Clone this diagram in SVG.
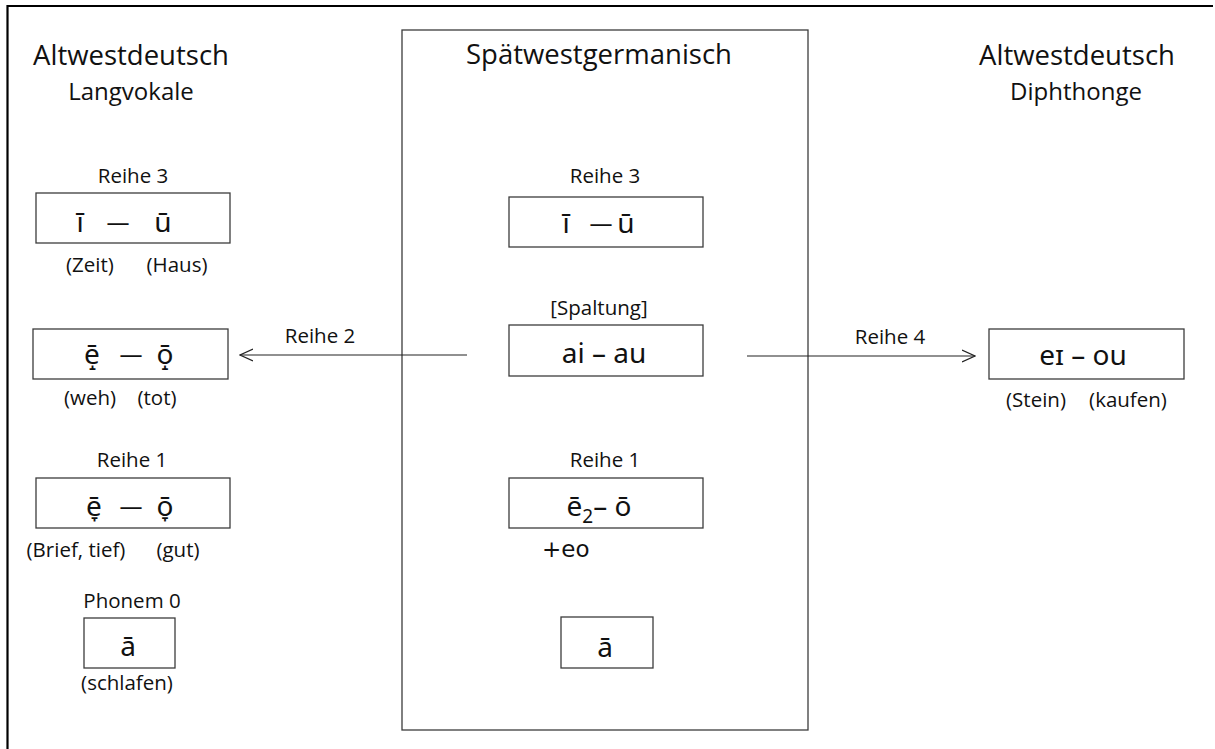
<svg xmlns="http://www.w3.org/2000/svg" width="1215" height="749" viewBox="0 0 1215 749">
<defs>
<style>
text{font-family:"Open Sans","Noto Sans","DejaVu Sans",sans-serif;fill:#111}
.h1{font-size:27.5px;text-anchor:middle}
.h2{font-size:24px;text-anchor:middle}
.lb{font-size:20.5px;text-anchor:middle}
.v{font-size:28px;text-anchor:middle;font-family:"Noto Sans","Open Sans","DejaVu Sans",sans-serif}
.d{font-size:23px;text-anchor:middle;font-family:"Noto Sans","Open Sans","DejaVu Sans",sans-serif}
.box{fill:#fff;stroke:#3c3c3c;stroke-width:1.3}
.con{fill:none;stroke:#222;stroke-width:1.2}
</style>
<marker id="arr" viewBox="0 0 14 14" refX="13" refY="7" markerWidth="14" markerHeight="14" markerUnits="userSpaceOnUse" orient="auto">
<path d="M0,1 L13,7 L0,13" fill="none" stroke="#222" stroke-width="1.2"/>
</marker>
</defs>
<rect width="1215" height="749" fill="#fff"/>
<g id="frame">
<path d="M7.5,749 V6 H1213" fill="none" stroke="#000" stroke-width="2.2"/>
</g>
<g id="center-panel">
<rect class="box" x="402" y="30" width="406" height="700"/>
<text class="h1" x="599" y="64">Spätwestgermanisch</text>
</g>
<g id="connectors">
<line class="con" x1="467" y1="355" x2="240" y2="355" marker-end="url(#arr)"/>
<text class="lb" x="320" y="343">Reihe 2</text>
<line class="con" x1="747" y1="356" x2="975" y2="356" marker-end="url(#arr)"/>
<text class="lb" x="890" y="344">Reihe 4</text>
</g>
<g id="left-heading">
<text class="h1" x="131" y="65">Altwestdeutsch</text>
<text class="h2" x="131" y="100">Langvokale</text>
</g>
<g id="right-heading">
<text class="h1" x="1077" y="65">Altwestdeutsch</text>
<text class="h2" x="1076" y="100">Diphthonge</text>
</g>
<g id="left-reihe3">
<text class="lb" x="133" y="183">Reihe 3</text>
<rect class="box" x="36" y="193" width="194" height="50"/>
<text class="v" x="80" y="232">ī</text>
<text class="d" x="118" y="230">—</text>
<text class="v" x="163" y="232">ū</text>
<text class="lb" x="90" y="272">(Zeit)</text>
<text class="lb" x="177" y="272">(Haus)</text>
</g>
<g id="left-reihe2">
<rect class="box" x="33" y="329" width="195" height="50"/>
<text class="v" x="92" y="364">ē̝</text>
<text class="d" x="131" y="362">—</text>
<text class="v" x="165" y="364">ō̝</text>
<text class="lb" x="90" y="405">(weh)</text>
<text class="lb" x="157" y="405">(tot)</text>
</g>
<g id="left-reihe1">
<text class="lb" x="132" y="467">Reihe 1</text>
<rect class="box" x="36" y="478" width="194" height="50"/>
<text class="v" x="94" y="516">ē̞</text>
<text class="d" x="131" y="514">—</text>
<text class="v" x="165" y="516">ō̞</text>
<text class="lb" x="76" y="557">(Brief, tief)</text>
<text class="lb" x="178" y="557">(gut)</text>
</g>
<g id="left-phonem0">
<text class="lb" x="132" y="608">Phonem 0</text>
<rect class="box" x="84" y="618" width="91" height="50"/>
<text class="v" x="128" y="656">ā</text>
<text class="lb" x="127" y="690">(schlafen)</text>
</g>
<g id="center-reihe3">
<text class="lb" x="605" y="183">Reihe 3</text>
<rect class="box" x="509" y="197" width="194" height="50"/>
<text class="v" x="566" y="233">ī</text>
<text class="d" x="601" y="231">—</text>
<text class="v" x="626" y="233">ū</text>
</g>
<g id="center-spaltung">
<text class="lb" x="599" y="315">[Spaltung]</text>
<rect class="box" x="509" y="325" width="194" height="51"/>
<text class="v" x="604" y="363">ai – au</text>
</g>
<g id="center-reihe1">
<text class="lb" x="605" y="467">Reihe 1</text>
<rect class="box" x="509" y="478" width="194" height="50"/>
<text class="v" x="599" y="516">ē<tspan font-size="19" dy="7">2</tspan><tspan dy="-7">– ō</tspan></text>
<text x="542" y="557" style="font-family:'DejaVu Sans',sans-serif;font-size:23px">+eo</text>
</g>
<g id="center-a">
<rect class="box" x="561" y="617" width="92" height="51"/>
<text class="v" x="605" y="657">ā</text>
</g>
<g id="right-diph">
<rect class="box" x="989" y="329" width="195" height="50"/>
<text class="v" x="1083" y="365">eɪ – ou</text>
<text class="lb" x="1036" y="407">(Stein)</text>
<text class="lb" x="1128" y="407">(kaufen)</text>
</g>
</svg>
